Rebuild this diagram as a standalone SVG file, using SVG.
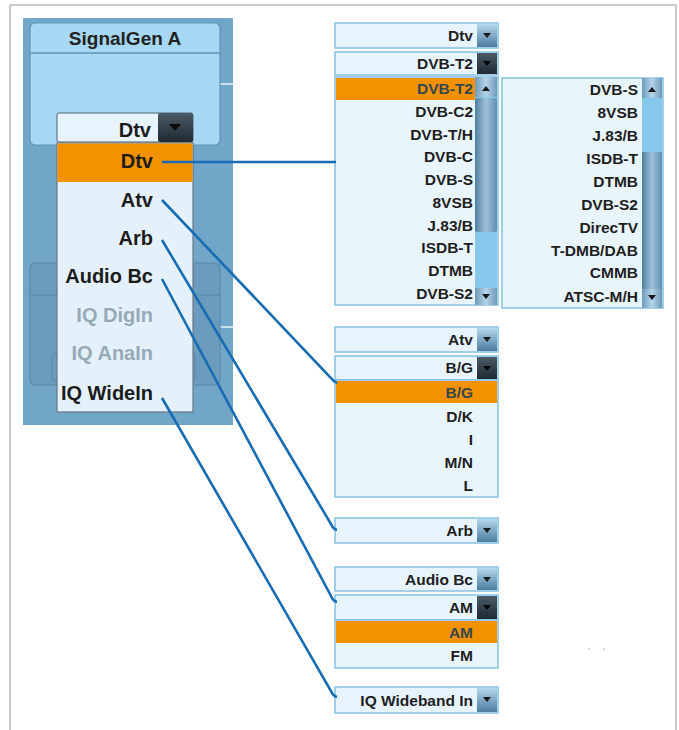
<svg xmlns="http://www.w3.org/2000/svg" width="679" height="730" viewBox="0 0 679 730">
<defs>
<linearGradient id="btnLight" x1="0" y1="0" x2="0" y2="1"><stop offset="0" stop-color="#b9d8ec"/><stop offset="0.5" stop-color="#7fa9c6"/><stop offset="1" stop-color="#4c7d9f"/></linearGradient>
<linearGradient id="btnDark" x1="0" y1="0" x2="0" y2="1"><stop offset="0" stop-color="#4a5a66"/><stop offset="1" stop-color="#1f2a32"/></linearGradient>
<linearGradient id="thumb" x1="0" y1="0" x2="1" y2="0"><stop offset="0" stop-color="#4f7f9f"/><stop offset="0.5" stop-color="#9fc2da"/><stop offset="1" stop-color="#5f8fb0"/></linearGradient>
<linearGradient id="sbBtn" x1="0" y1="0" x2="1" y2="0"><stop offset="0" stop-color="#6d9aba"/><stop offset="0.5" stop-color="#b5d3e8"/><stop offset="1" stop-color="#6d9aba"/></linearGradient>
</defs>
<style>
.frame{fill:none;stroke:#b4bcc4;stroke-width:1.5}
.big{font-family:"Liberation Sans",Arial,sans-serif;font-weight:bold;font-size:20px;fill:#1c1c1c;text-anchor:end}
.dim{fill:#98a9b6}
.sm{font-family:"Liberation Sans",Arial,sans-serif;font-weight:bold;font-size:15.5px;fill:#1e1e1e;text-anchor:end}
.sel{fill:#34474f}
.combo{fill:#e7f4fd;stroke:#86c0e2;stroke-width:1.5}
.list{fill:#e9f5fd;stroke:#86c0e2;stroke-width:1.5}
.orange{fill:#f39200}
.bl{fill:url(#btnLight)}
.bd{fill:url(#btnDark)}
.tri{fill:#1a1a1a}
.conn{fill:none;stroke:#176cb3;stroke-width:2.6}
</style>
<rect width="679" height="730" fill="#ffffff"/>
<path class="frame" d="M10,730 V5 H676 V730"/>

<g id="signalgen">
<rect x="23" y="18" width="210" height="407" fill="#72a6c9"/>
<line x1="220" y1="84" x2="233" y2="84" stroke="#e6f2fa" stroke-width="1.5"/>
<line x1="220" y1="327" x2="233" y2="327" stroke="#e6f2fa" stroke-width="1.5"/>
<rect x="30" y="23" width="190" height="122" rx="5" fill="#a6d8f3" stroke="#5f94b8" stroke-width="1.2"/>
<line x1="30" y1="53" x2="220" y2="53" stroke="#5f94b8" stroke-width="1.5"/>
<text x="125" y="45" text-anchor="middle" font-family="'Liberation Sans',Arial,sans-serif" font-weight="bold" font-size="19px" fill="#222">SignalGen A</text>
<rect x="30" y="263" width="190" height="122" rx="5" fill="#6b9cbd" stroke="#5a88a9" stroke-width="1.2"/>
<line x1="30" y1="295" x2="220" y2="295" stroke="#5a88a9" stroke-width="1.2"/>
<rect x="52" y="353" width="143" height="28" rx="3" fill="#6b9cbd" stroke="#5a88a9" stroke-width="1"/>
</g>

<g id="left-combo">
<rect x="57" y="113" width="136" height="29" rx="2" fill="#e7f4fd" stroke="#4f6270" stroke-width="1"/>
<rect x="158" y="113" width="35" height="29" rx="2" class="bd"/>
<polygon points="169,124 181,124 175,131" fill="#0c0c0c"/>
<text class="big" x="151" y="137">Dtv</text>
</g>

<g id="left-list">
<rect x="57" y="143" width="136" height="269" fill="#e4f1fb" stroke="#6a7680" stroke-width="1.2"/>
<rect x="57.5" y="143.5" width="135" height="38.5" class="orange"/>
<text class="big" x="153" y="168">Dtv</text>
<text class="big" x="153" y="207">Atv</text>
<text class="big" x="153" y="245">Arb</text>
<text class="big" x="153" y="283">Audio Bc</text>
<text class="big dim" x="153" y="322">IQ DigIn</text>
<text class="big dim" x="153" y="360">IQ AnaIn</text>
<text class="big" x="153" y="400">IQ WideIn</text>
</g>

<g id="dtv-panel">
<rect class="combo" x="335" y="23" width="163" height="25"/>
<rect class="bl" x="477" y="24" width="20" height="23"/>
<polygon class="tri" points="483,33 491,33 487,38"/>
<text class="sm" x="473" y="41">Dtv</text>
<rect class="combo" x="335" y="52" width="163" height="23"/>
<rect class="bd" x="477" y="53" width="20" height="21"/>
<polygon points="483,61 491,61 487,66" fill="#000"/>
<text class="sm" x="473" y="69">DVB-T2</text>
<rect class="list" x="335" y="77" width="163" height="228"/>
<rect class="orange" x="336" y="78" width="139" height="22"/>
<rect x="475" y="77" width="22" height="228" fill="#86c8ec"/>
<rect x="475" y="77" width="22" height="20" fill="url(#sbBtn)"/>
<polygon class="tri" points="482,91 490,91 486,86"/>
<rect x="475" y="98" width="22" height="134" rx="2" fill="url(#thumb)"/>
<rect x="475" y="288" width="22" height="17" fill="url(#sbBtn)"/>
<polygon class="tri" points="482,294 490,294 486,299"/>
<text class="sm sel" x="473" y="94">DVB-T2</text>
<text class="sm" x="473" y="117">DVB-C2</text>
<text class="sm" x="473" y="140">DVB-T/H</text>
<text class="sm" x="473" y="162">DVB-C</text>
<text class="sm" x="473" y="185">DVB-S</text>
<text class="sm" x="473" y="208">8VSB</text>
<text class="sm" x="473" y="231">J.83/B</text>
<text class="sm" x="473" y="253">ISDB-T</text>
<text class="sm" x="473" y="276">DTMB</text>
<text class="sm" x="473" y="299">DVB-S2</text>
</g>

<g id="dtv-list-2">
<rect class="list" x="502" y="78" width="161" height="230"/>
<rect x="642" y="78" width="20" height="230" fill="url(#thumb)"/>
<rect x="642" y="98" width="20" height="54" fill="#86c8ec"/>
<rect x="642" y="78" width="20" height="20" fill="url(#sbBtn)"/>
<polygon class="tri" points="648,92 656,92 652,87"/>
<rect x="642" y="289" width="20" height="19" fill="url(#sbBtn)"/>
<polygon class="tri" points="648,295 656,295 652,300"/>
<text class="sm" x="638" y="95">DVB-S</text>
<text class="sm" x="638" y="118">8VSB</text>
<text class="sm" x="638" y="141">J.83/B</text>
<text class="sm" x="638" y="164">ISDB-T</text>
<text class="sm" x="638" y="187">DTMB</text>
<text class="sm" x="638" y="210">DVB-S2</text>
<text class="sm" x="638" y="233">DirecTV</text>
<text class="sm" x="638" y="256">T-DMB/DAB</text>
<text class="sm" x="638" y="278">CMMB</text>
<text class="sm" x="638" y="302">ATSC-M/H</text>
</g>

<g id="atv-panel">
<rect class="combo" x="335" y="327" width="163" height="25"/>
<rect class="bl" x="477" y="328" width="20" height="23"/>
<polygon class="tri" points="483,337 491,337 487,342"/>
<text class="sm" x="473" y="345">Atv</text>
<rect class="combo" x="335" y="356" width="163" height="24"/>
<rect class="bd" x="477" y="357" width="20" height="22"/>
<polygon points="483,366 491,366 487,371" fill="#000"/>
<text class="sm" x="473" y="373">B/G</text>
<rect class="list" x="335" y="380" width="163" height="117"/>
<rect class="orange" x="336" y="381" width="161" height="22"/>
<text class="sm sel" x="473" y="397.5">B/G</text>
<text class="sm" x="473" y="422">D/K</text>
<text class="sm" x="473" y="445">I</text>
<text class="sm" x="473" y="468">M/N</text>
<text class="sm" x="473" y="491">L</text>
</g>

<g id="arb-panel">
<rect class="combo" x="335" y="518" width="163" height="25"/>
<rect class="bl" x="477" y="519" width="20" height="23"/>
<polygon class="tri" points="483,528 491,528 487,533"/>
<text class="sm" x="473" y="536">Arb</text>
</g>

<g id="audio-panel">
<rect class="combo" x="335" y="567" width="163" height="24"/>
<rect class="bl" x="477" y="568" width="20" height="22"/>
<polygon class="tri" points="483,577 491,577 487,582"/>
<text class="sm" x="473" y="584.5">Audio Bc</text>
<rect class="combo" x="335" y="595" width="163" height="25"/>
<rect class="bd" x="477" y="596" width="20" height="23"/>
<polygon points="483,605 491,605 487,610" fill="#000"/>
<text class="sm" x="473" y="613">AM</text>
<rect class="list" x="335" y="620" width="163" height="48"/>
<rect class="orange" x="336" y="621" width="161" height="22"/>
<text class="sm sel" x="473" y="637.5">AM</text>
<text class="sm" x="473" y="661">FM</text>
</g>

<g id="iqwb-panel">
<rect class="combo" x="335" y="687" width="163" height="26"/>
<rect class="bl" x="477" y="688" width="20" height="24"/>
<polygon class="tri" points="483,697 491,697 487,702"/>
<text class="sm" x="473" y="705.5">IQ Wideband In</text>
</g>

<g id="connectors">
<path class="conn" d="M162,162 H336"/>
<path class="conn" d="M162,200 L331,378 Q334,382 337,383"/>
<path class="conn" d="M162,240 L331,524 Q333,529 337,530"/>
<path class="conn" d="M162,279 L331,596 Q333,601 337,602"/>
<path class="conn" d="M162,398 L331,691 Q333,696 337,697"/>
</g>

<circle cx="589" cy="649" r="0.9" fill="#c8ccd0"/>
<circle cx="604" cy="649" r="0.9" fill="#c8ccd0"/>
</svg>
